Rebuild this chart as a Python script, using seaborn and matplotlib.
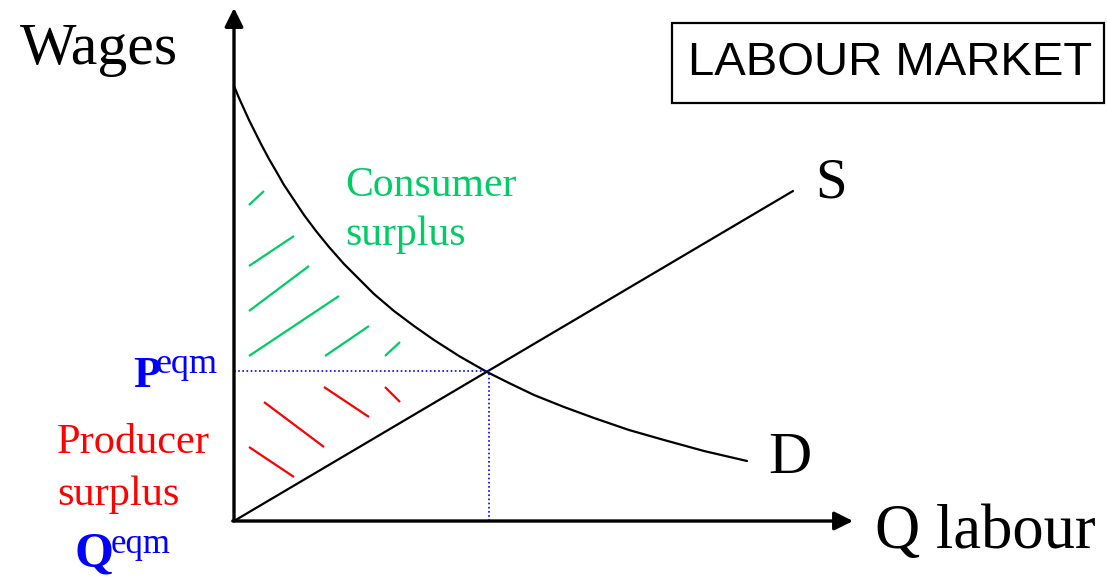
import matplotlib
matplotlib.use("Agg")
import matplotlib.pyplot as plt
import seaborn as sns
import pandas as pd
from matplotlib.patches import Rectangle

# ---- data (origin of the diagram at the axes corner) ----
demand_q = [0, 5, 10, 15, 20, 27, 35, 42, 50, 60, 70, 82, 95, 110, 125, 140, 160, 180, 200,
            225, 253, 275, 300, 330, 360, 395, 430, 470, 513]
demand_w = [435, 423, 412, 401, 391, 377, 362, 350, 336, 321, 306, 290, 274, 257, 242, 227,
            210, 195, 181, 165, 149, 138, 126, 114, 103, 91, 81, 70, 60]
supply_q = [0, 559]
supply_w = [0, 330]
eq_q = 255
eq_p = 150
consumer_hatch = [((15, 316), (30, 330)), ((15, 255), (60, 285)), ((15, 210), (75, 255)),
                  ((15, 165), (105, 225)), ((91, 165), (135, 195)), ((151, 165), (166, 179))]
producer_hatch = [((30, 119), (90, 74)), ((15, 74), (60, 44)),
                  ((90, 134), (135, 104)), ((151, 134), (166, 119))]
y_label = "Wages"
x_label = "Q labour"
title = "LABOUR MARKET"
supply_label = "S"
demand_label = "D"

GREEN = "#00CC66"
RED = "#FF0000"
BLUE = "#0000FF"

sns.set_style("white")
plt.rcParams["font.family"] = ["Liberation Serif", "DejaVu Serif"]

fig = plt.figure(figsize=(11.07, 5.77), dpi=100)
ax = fig.add_axes([0, 0, 1, 1])
ax.set_xlim(-234, 873)
ax.set_ylim(-56, 521)
ax.axis("off")

# axes arrows
ax.annotate("", xy=(0, 513), xytext=(0, 0),
            arrowprops=dict(arrowstyle="-|>", lw=2.4, color="black", mutation_scale=28,
                            shrinkA=0, shrinkB=0))
ax.annotate("", xy=(619, 0), xytext=(-1.2, 0),
            arrowprops=dict(arrowstyle="-|>", lw=2.4, color="black", mutation_scale=28,
                            shrinkA=0, shrinkB=0))

# curves
sns.lineplot(data=pd.DataFrame({"q": demand_q, "w": demand_w}), x="q", y="w",
             sort=False, color="black", lw=1.6, ax=ax, legend=False)
sns.lineplot(data=pd.DataFrame({"q": supply_q, "w": supply_w}), x="q", y="w",
             sort=False, color="black", lw=1.6, ax=ax, legend=False)

# equilibrium dotted lines
ax.plot([0, eq_q], [eq_p, eq_p], color=BLUE, lw=1.2, ls=(0, (1, 1.5)))
ax.plot([eq_q, eq_q], [0, eq_p], color=BLUE, lw=1.2, ls=(0, (1, 1.5)))

# hatching
for (x0, y0), (x1, y1) in consumer_hatch:
    ax.plot([x0, x1], [y0, y1], color=GREEN, lw=1.6, solid_capstyle="butt")
for (x0, y0), (x1, y1) in producer_hatch:
    ax.plot([x0, x1], [y0, y1], color=RED, lw=1.6, solid_capstyle="butt")

# labels
ax.text(-214, 457, y_label, fontsize=43, va="baseline", ha="left", color="black")
ax.text(641, -27, x_label, fontsize=45, va="baseline", ha="left", color="black")
ax.text(581, 324, supply_label, fontsize=41, va="baseline", ha="left", color="black")
ax.text(534, 48, demand_label, fontsize=43, va="baseline", ha="left", color="black")

ax.text(111, 325, "Consumer", fontsize=30, color=GREEN, va="baseline", ha="left")
ax.text(111, 276, "surplus", fontsize=30, color=GREEN, va="baseline", ha="left")
ax.text(-177, 68, "Producer", fontsize=30.5, color=RED, va="baseline", ha="left")
ax.text(-177, 16, "surplus", fontsize=30.5, color=RED, va="baseline", ha="left")

ax.text(-101, 134, "P", fontsize=32, fontweight="bold", color=BLUE, va="baseline", ha="left")
ax.text(-78, 148, "eqm", fontsize=26, color=BLUE, va="baseline", ha="left")
ax.text(-159, -46, "Q", fontsize=36, fontweight="bold", color=BLUE, va="baseline", ha="left")
ax.text(-123, -32, "eqm", fontsize=25, color=BLUE, va="baseline", ha="left")

# title box
ax.add_patch(Rectangle((438, 418), 432, 80, fill=False, ec="black", lw=1.6))
ax.text(656, 458, title, fontsize=34, va="center", ha="center", color="black",
        family=["Liberation Sans", "DejaVu Sans"])

fig.savefig("out.png", dpi=100)
